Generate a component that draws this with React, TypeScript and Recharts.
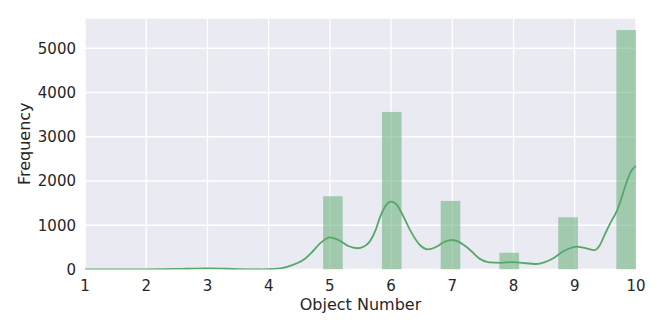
import React from "react";
import { ComposedChart, Bar, Line, XAxis, YAxis, CartesianGrid, Label } from "recharts";

// histogram bins (bin centre on the x axis, count), all bins 0.32 wide
const binCenters = [5.05, 6.01, 6.97, 7.93, 8.89, 9.84];
const binCounts = [1655, 3560, 1550, 378, 1180, 5410];
const binWidth = 0.32;

// kde curve, scaled to counts
const kdeX = [
  1.0, 1.5, 2.0, 2.5, 3.0, 3.5, 3.9, 4.1, 4.3, 4.46, 4.6, 4.7, 4.84, 5.0, 5.15, 5.3, 5.45,
  5.55, 5.65, 5.75, 5.82, 5.9, 6.0, 6.1, 6.2, 6.31, 6.47, 6.6, 6.75, 6.85, 6.99, 7.1, 7.2,
  7.3, 7.45, 7.6, 7.8, 7.95, 8.1, 8.37, 8.5, 8.65, 8.8, 8.92, 9.03, 9.15, 9.33, 9.4, 9.5,
  9.6, 9.68, 9.76, 9.84, 9.92, 10.0,
];
const kdeY = [
  0, 0, 2, 12, 24, 10, 4, 12, 60, 140, 250, 380, 590, 728, 660, 530, 480,
  515, 630, 900, 1190, 1420, 1535, 1450, 1200, 890, 554, 456, 520, 610, 667, 630, 540,
  430, 240, 160, 150, 168, 155, 124, 160, 253, 400, 480, 515, 490, 440, 530, 820,
  1100, 1300, 1600, 1950, 2220, 2339,
];

const xTicks = [1, 2, 3, 4, 5, 6, 7, 8, 9, 10];
const yTicks = [0, 1000, 2000, 3000, 4000, 5000];

const rows = [
  ...kdeX.map((x, i) => ({ x, kde: kdeY[i] })),
  ...binCenters.map((x, i) => ({ x, count: binCounts[i] })),
].sort((a, b) => a.x - b.x);

const W = 664;
const H = 332;
const M = { top: 18, right: 28, bottom: 0, left: 0 };
const yAxisW = 85;
const plotW = W - M.left - M.right - yAxisW;
const xSpan = xTicks[xTicks.length - 1] - xTicks[0];

const font = "DejaVu Sans";
const ink = "#262626";

// recharts squeezes bars on a number axis, so widen each to its bin
function BinRect(props: any) {
  const { x, y, width, height, fill } = props;
  if (height == null || height <= 0) return null;
  const cx = x + width / 2;
  const w = (binWidth / xSpan) * plotW;
  return <rect x={cx - w / 2} y={y} width={w} height={height} fill={fill} fillOpacity={0.5} />;
}

export default function App() {
  return (
    <div style={{ position: "absolute", left: 0, top: 0 }}>
      <ComposedChart width={W} height={H} data={rows} margin={M}>
        <CartesianGrid stroke="#ffffff" strokeWidth={1.3} fill="#eaeaf2" />
        <XAxis
          dataKey="x"
          type="number"
          domain={[1, 10]}
          ticks={xTicks}
          allowDataOverflow
          axisLine={false}
          tickLine={false}
          tickSize={6}
          tickMargin={5}
          height={62.5}
          tick={{ fontSize: 15, fill: ink, fontFamily: font }}
        >
          <Label
            value="Object Number"
            position="insideBottom"
            offset={22}
            style={{ fontSize: 16, fill: ink, fontFamily: font }}
          />
        </XAxis>
        <YAxis
          type="number"
          domain={[0, 5683]}
          ticks={yTicks}
          allowDataOverflow
          axisLine={false}
          tickLine={false}
          tickSize={6}
          tickMargin={3}
          width={yAxisW}
          tick={{ fontSize: 15, fill: ink, fontFamily: font }}
        >
          <Label
            value="Frequency"
            angle={-90}
            position="insideLeft"
            offset={24}
            style={{ fontSize: 16, fill: ink, fontFamily: font, textAnchor: "middle" }}
          />
        </YAxis>
        <Bar dataKey="count" fill="#55a868" shape={BinRect} isAnimationActive={false} />
        <Line
          dataKey="kde"
          type="monotone"
          stroke="#55a868"
          strokeWidth={1.8}
          dot={false}
          connectNulls
          isAnimationActive={false}
        />
      </ComposedChart>
    </div>
  );
}
